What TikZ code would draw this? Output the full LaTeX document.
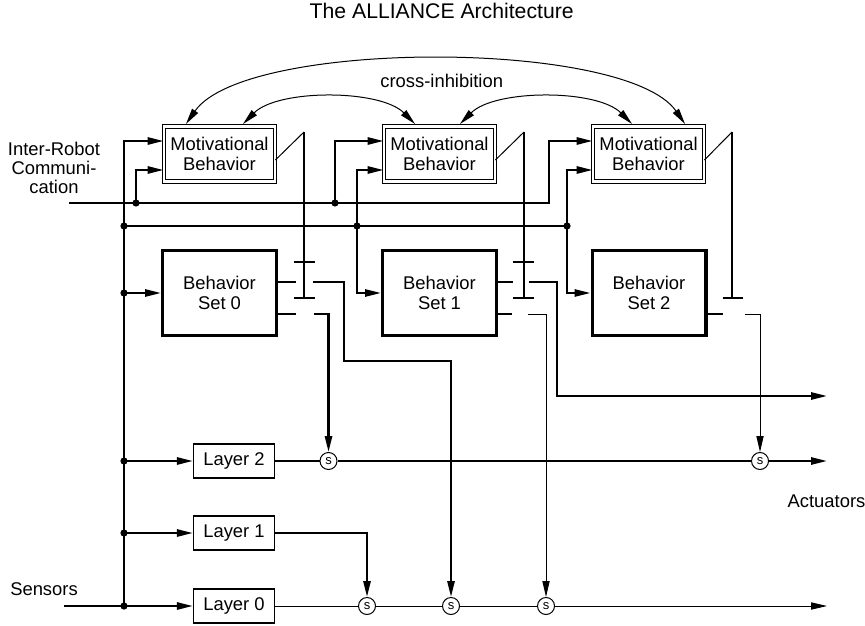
\documentclass[tikz,border=0pt]{standalone}
\usepackage{fontspec}
\setmainfont{Liberation Sans}
\usetikzlibrary{arrows.meta,positioning}

\begin{document}
\begin{tikzpicture}[x=0.5pt, y=-0.5pt, font=\fontsize{9.2}{9.6}\selectfont,
  >={Triangle[length=8pt,width=3.6pt]},
  wire/.style={line width=1.1pt},
  thinwire/.style={line width=0.5pt},
  motbox/.style={draw, double, double distance=1.35pt, line width=0.5pt,
    minimum width=55.4pt, minimum height=27.5pt, inner sep=0pt, align=center},
  setbox/.style={draw, line width=1.7pt, minimum width=56.8pt,
    minimum height=42.3pt, inner sep=0pt, align=center},
  layerbox/.style={draw, line width=0.65pt, minimum width=40.5pt,
    minimum height=17pt, inner sep=0pt},
  swnode/.style={draw, circle, line width=0.5pt, minimum size=8.5pt,
    inner sep=0pt, fill=white, font=\fontsize{6.5}{7}\selectfont}]
\useasboundingbox (0,0) rectangle (865,625);

% labels
\node (title) at (441.7,11) {\fontsize{10.6}{12}\selectfont The ALLIANCE Architecture};
\node (xinh) at (441.7,81) {cross-inhibition};
\node[align=center] (irc) at (54,168) {Inter-Robot\\Communi-\\cation};
\node (sens) at (44,589) {Sensors};
\node (act) at (826.5,501) {Actuators};

% boxes
\node[motbox] (mb0) at (219.5,154) {Motivational\\Behavior};
\node[motbox] (mb1) at (439.5,154) {Motivational\\Behavior};
\node[motbox] (mb2) at (648.5,154) {Motivational\\Behavior};
\node[setbox] (bs0) at (219.5,293) {Behavior\\Set 0};
\node[setbox] (bs1) at (439.5,293) {Behavior\\Set 1};
\node[setbox] (bs2) at (649,293) {Behavior\\Set 2};
\node[layerbox] (l2) at (234,461) {Layer 2};
\node[layerbox] (l1) at (234,533) {Layer 1};
\node[layerbox] (l0) at (234,606) {Layer 0};
\node[swnode] (s2a) at (328.5,461) {s};
\node[swnode] (s2b) at (760,461) {s};
\node[swnode] (s0a) at (367,606) {s};
\node[swnode] (s0b) at (451,606) {s};
\node[swnode] (s0c) at (546,606) {s};

% junctions and bends
\coordinate (upRow) at (0,141);
\coordinate (lowRow) at (0,170);
\coordinate (diagRow) at (0,160);
\coordinate (busT) at (124,141);
\coordinate (j606) at (124,606);
\coordinate (j533) at (124,533);
\coordinate (j461) at (124,461);
\coordinate (j292) at (124,293);
\coordinate (j226) at (124,226);
\coordinate (j357) at (357,226);
\coordinate (j567) at (567,226);
\coordinate (sensIn) at (64,606);
\coordinate (commIn) at (69,203);
\coordinate (c136) at (136,203);
\coordinate (c335) at (335,203);
\coordinate (commT) at (549,203);
\coordinate (a0) at (304,132);
\coordinate (h0) at (304,262);
\coordinate (g0) at (304,298);
\coordinate (a1) at (524,132);
\coordinate (h1) at (524,262);
\coordinate (g1) at (524,298);
\coordinate (a2) at (732,132);
\coordinate (g2) at (732,298);
\coordinate (o0u) at (313,282);
\coordinate (o0l) at (314,314);
\coordinate (b0) at (344,361);
\coordinate (o1u) at (529,282);
\coordinate (o1l) at (528,314);
\coordinate (b1) at (557,396);
\coordinate (e1) at (827,396);
\coordinate (o2l) at (745,314);
\coordinate (e2) at (827,461);
\coordinate (e0) at (827,606);

% sensor side
\draw[wire,->] (sensIn) -- (l0.west);
\draw[wire,->] (j606) -- (busT) -- (busT -| mb0.west);
\draw[wire,->] (j533) -- (l1.west);
\draw[wire,->] (j461) -- (l2.west);
\draw[wire,->] (j292) -- (bs0.west);
\draw[wire] (j226) -- (j567);
\draw[wire,->] (j357) |- (mb1.west |- lowRow);
\draw[wire,->] (j357) |- (bs1.west);
\draw[wire,->] (j567) |- (mb2.west |- lowRow);
\draw[wire,->] (j567) |- (bs2.west);

% communication
\draw[wire,->] (commIn) -- (commT) |- (mb2.west |- upRow);
\draw[wire,->] (c136) |- (mb0.west |- lowRow);
\draw[wire,->] (c335) |- (mb1.west |- upRow);

\foreach \j in {j606,j533,j461,j292,j226,j357,j567,c136,c335}
  \fill (\j) circle (1.8pt);

% activation
\draw[thinwire] (mb0.east |- diagRow) -- (a0);
\draw[thinwire] (mb1.east |- diagRow) -- (a1);
\draw[thinwire] (mb2.east |- diagRow) -- (a2);
\draw[wire] (a0) -- (g0);
\draw[wire] (a1) -- (g1);
\draw[wire] (a2) -- (g2);
\draw[wire] ([xshift=-5pt]h0) -- ([xshift=5.5pt]h0);
\draw[wire] ([xshift=-5pt]g0) -- ([xshift=5.5pt]g0);
\draw[wire] ([xshift=-5.5pt]h1) -- ([xshift=5pt]h1);
\draw[wire] ([xshift=-5.5pt]g1) -- ([xshift=5pt]g1);
\draw[wire] ([xshift=-4.5pt]g2) -- ([xshift=5.5pt]g2);

% behavior set outputs
\draw[wire] (bs0.east |- o0u) -- ++(18,0);
\draw[wire] (bs0.east |- o0l) -- ++(18,0);
\draw[wire] (bs1.east |- o1u) -- ++(15,0);
\draw[wire] (bs1.east |- o1l) -- ++(14,0);
\draw[wire] (bs2.east |- o2l) -- ++(15,0);
\draw[wire,->] (o0u) -| (b0) -| (s0b);
\draw[wire,->] (o0l) -| (s2a);
\draw[wire,->] (o1u) -| (b1) -- (e1);
\draw[thinwire,->] (o1l) -| (s0c);
\draw[thinwire,->] (o2l) -| (s2b);

% layer outputs
\draw[wire] (l2) -- (s2a) -- (s2b);
\draw[wire,->] (s2b) -- (e2);
\draw[wire,->] (l1) -| (s0a);
\draw[thinwire] (l0) -- (s0a) -- (s0b) -- (s0c);
\draw[thinwire,->] (s0c) -- (e0);

% cross-inhibition
\draw[thinwire,<->] ([xshift=-16.75pt,yshift=1pt]mb0.north) .. controls +(59,-85) and +(-59,-85) .. ([xshift=18.25pt,yshift=1pt]mb2.north);
\draw[thinwire,<->] ([xshift=11.75pt,yshift=1pt]mb0.north) .. controls +(35,-35) and +(-35,-35) .. ([xshift=-12.25pt,yshift=1pt]mb1.north);
\draw[thinwire,<->] ([xshift=10.25pt,yshift=1pt]mb1.north) .. controls +(35,-35) and +(-35,-35) .. ([xshift=-8.25pt,yshift=1pt]mb2.north);
\end{tikzpicture}
\end{document}
